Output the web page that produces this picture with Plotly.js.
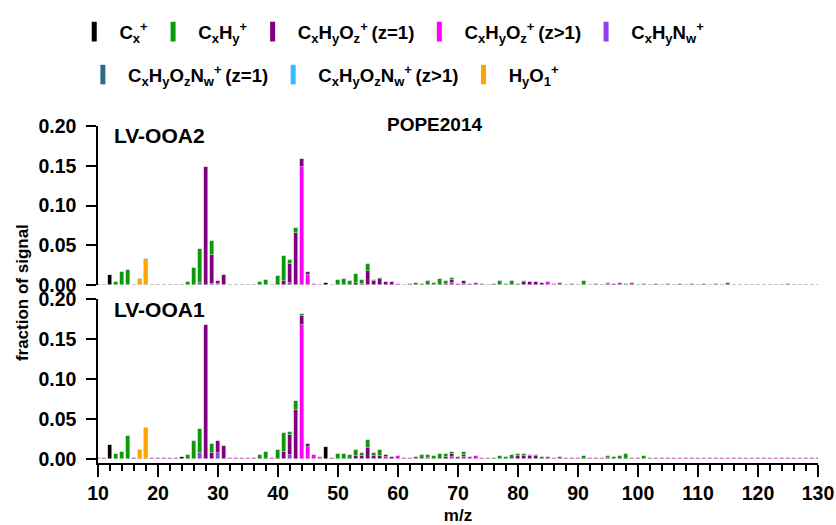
<!DOCTYPE html>
<html>
<head>
<meta charset="utf-8">
<script src="https://cdn.plot.ly/plotly-3.0.1.min.js"></script>
<style>
  html, body { margin: 0; padding: 0; background: #fff; }
  #chart { width: 836px; height: 525px; }
</style>
</head>
<body>
<div id="chart"></div>
<script>
// Ion family labels (legend text) and colours
const NB = '\u00A0';   // keeps a little air between key and text
const TS = '\u2009';   // thin space before the charge-state note
const FAMILY_LABELS = [
  NB + 'C<sub>x</sub><sup>+</sup>',
  NB + 'C<sub>x</sub>H<sub>y</sub><sup>+</sup>',
  NB + 'C<sub>x</sub>H<sub>y</sub>O<sub>z</sub><sup>+</sup>' + TS + '(z=1)',
  NB + 'C<sub>x</sub>H<sub>y</sub>O<sub>z</sub><sup>+</sup>' + TS + '(z>1)',
  NB + 'C<sub>x</sub>H<sub>y</sub>N<sub>w</sub><sup>+</sup>',
  NB + 'C<sub>x</sub>H<sub>y</sub>O<sub>z</sub>N<sub>w</sub><sup>+</sup>' + TS + '(z=1)',
  NB + 'C<sub>x</sub>H<sub>y</sub>O<sub>z</sub>N<sub>w</sub><sup>+</sup>' + TS + '(z>1)',
  NB + 'H<sub>y</sub>O<sub>1</sub><sup>+</sup>'
];
const FAMILY_COLORS = ['#000000', '#0a9a0a', '#800080', '#ff00ff', '#9040f0', '#2b6a8c', '#33bbff', '#ffa500'];

const PANEL_NAMES = ['LV-OOA2', 'LV-OOA1'];
const CAMPAIGN = 'POPE2014';

// LV-OOA2 factor profile: [m/z, fraction of signal] per ion family
const OOA2_CX = [[12, 0.013], [24, 0.001], [48, 0.003]];
const OOA2_CXHY = [[13, 0.004], [14, 0.017], [15, 0.019], [25, 0.004], [26, 0.022], [27, 0.042], [29, 0.017],
  [37, 0.004], [38, 0.007], [39, 0.001], [40, 0.012], [41, 0.031], [42, 0.005], [43, 0.006],
  [50, 0.0067], [51, 0.008], [52, 0.0055], [53, 0.0116], [54, 0.005], [55, 0.0095], [56, 0.002], [57, 0.001],
  [62, 0.0015], [63, 0.0033], [64, 0.002], [65, 0.0055], [66, 0.0033], [67, 0.008], [68, 0.004], [69, 0.0026],
  [74, 0.0015], [76, 0.002], [77, 0.0055], [78, 0.002], [79, 0.006], [80, 0.002], [81, 0.0015], [82, 0.0005],
  [87, 0.0027], [89, 0.002], [91, 0.005], [93, 0.002], [95, 0.001], [98, 0.002], [101, 0.002], [103, 0.0012],
  [105, 0.002], [107, 0.002], [113, 0.002], [115, 0.003]];
const OOA2_CXHYO1 = [[16, 0.001], [28, 0.148], [29, 0.036], [30, 0.004], [31, 0.013], [41, 0.006], [42, 0.024],
  [43, 0.066], [44, 0.010], [45, 0.004], [53, 0.003], [54, 0.002], [55, 0.0175], [56, 0.005], [57, 0.008],
  [58, 0.0045], [59, 0.004], [68, 0.002], [69, 0.004], [70, 0.002], [71, 0.004], [72, 0.002], [81, 0.004],
  [82, 0.004], [83, 0.004], [84, 0.0025], [95, 0.002], [96, 0.0015], [109, 0.002]];
const OOA2_CXHYOZ = [[10, 0.0008], [11, 0.0008], [19, 0.0008], [20, 0.0008], [21, 0.0008], [22, 0.0008], [23, 0.0008],
  [32, 0.0008], [33, 0.0008], [34, 0.0008], [35, 0.0008], [36, 0.0008], [44, 0.148], [45, 0.013], [46, 0.002],
  [47, 0.001], [49, 0.0008], [60, 0.002], [61, 0.001], [69, 0.003], [71, 0.002], [73, 0.003], [75, 0.001],
  [85, 0.004], [86, 0.0012], [88, 0.001], [90, 0.0008], [92, 0.001], [94, 0.001], [97, 0.003], [99, 0.003],
  [100, 0.001], [102, 0.001], [104, 0.001], [106, 0.001], [108, 0.001], [110, 0.001], [111, 0.002], [112, 0.001],
  [114, 0.001], [116, 0.0008], [117, 0.0008], [118, 0.0008], [119, 0.0008], [120, 0.0008], [121, 0.0008],
  [122, 0.0008], [123, 0.0008], [124, 0.0008], [125, 0.0015], [126, 0.0008], [127, 0.0008], [128, 0.0008],
  [129, 0.0008], [130, 0.0008]];
const OOA2_CXHYNW = [[27, 0.003], [29, 0.002], [30, 0.002], [42, 0.003]];
const OOA2_CXHYOZNW1 = [];
const OOA2_CXHYOZNW2 = [];
const OOA2_HYO1 = [[17, 0.008], [18, 0.033]];

// LV-OOA1 factor profile
const OOA1_CX = [[12, 0.0175], [24, 0.002], [48, 0.0146]];
const OOA1_CXHY = [[13, 0.006], [14, 0.0088], [15, 0.0288], [25, 0.005], [26, 0.022], [27, 0.031], [29, 0.0113],
  [37, 0.005], [38, 0.008], [40, 0.011], [41, 0.0242], [42, 0.0044], [43, 0.0115], [44, 0.002],
  [50, 0.006], [51, 0.006], [52, 0.005], [53, 0.0075], [54, 0.004], [55, 0.0103], [56, 0.0035], [57, 0.007],
  [63, 0.002], [64, 0.005], [65, 0.0035], [66, 0.004], [67, 0.006], [68, 0.004], [69, 0.003], [70, 0.002],
  [71, 0.0038], [76, 0.0015], [77, 0.004], [78, 0.002], [79, 0.005], [80, 0.0015], [81, 0.002], [82, 0.001],
  [83, 0.002], [84, 0.002], [87, 0.002], [91, 0.003], [95, 0.003], [96, 0.002], [97, 0.0035], [98, 0.006],
  [99, 0.001], [101, 0.003], [103, 0.001]];
const OOA1_CXHYO1 = [[16, 0.001], [28, 0.167], [29, 0.0067], [30, 0.016], [31, 0.016], [41, 0.0083], [42, 0.0246],
  [43, 0.061], [44, 0.0115], [45, 0.004], [47, 0.001], [53, 0.003], [54, 0.003], [55, 0.0135], [56, 0.004],
  [57, 0.004], [58, 0.003], [59, 0.0025], [68, 0.002], [69, 0.0035], [71, 0.0025], [80, 0.004], [81, 0.004],
  [82, 0.004], [83, 0.003], [95, 0.001]];
const OOA1_CXHYOZ = [[10, 0.0008], [11, 0.0008], [19, 0.0008], [20, 0.0008], [21, 0.0008], [22, 0.0008], [23, 0.0008],
  [32, 0.0008], [33, 0.0008], [34, 0.0008], [35, 0.0008], [36, 0.0008], [39, 0.0008], [44, 0.1675], [45, 0.015],
  [46, 0.0046], [47, 0.0015], [49, 0.0008], [58, 0.002], [60, 0.0037], [61, 0.0015], [62, 0.001], [65, 0.001],
  [69, 0.0025], [71, 0.0025], [72, 0.0025], [73, 0.0037], [74, 0.0015], [75, 0.001], [85, 0.002], [86, 0.001],
  [88, 0.001], [89, 0.001], [90, 0.001], [92, 0.001], [93, 0.001], [94, 0.001], [100, 0.001], [102, 0.001],
  [104, 0.001], [105, 0.001], [106, 0.001], [107, 0.001], [108, 0.001], [109, 0.001], [110, 0.001], [111, 0.0015],
  [112, 0.001], [113, 0.001], [114, 0.001], [115, 0.001], [116, 0.0008], [117, 0.0008], [118, 0.0008],
  [119, 0.0008], [120, 0.0008], [121, 0.0008], [122, 0.0008], [123, 0.0008], [124, 0.0008], [125, 0.0008],
  [126, 0.0008], [127, 0.0008], [128, 0.0008], [129, 0.0008], [130, 0.0008]];
const OOA1_CXHYNW = [[27, 0.0067], [30, 0.0067], [42, 0.005]];
const OOA1_CXHYOZNW1 = [];
const OOA1_CXHYOZNW2 = [];
const OOA1_HYO1 = [[17, 0.0105], [18, 0.038]];

// Family index -> series, per panel (legend order)
const OOA2_SERIES = [OOA2_CX, OOA2_CXHY, OOA2_CXHYO1, OOA2_CXHYOZ, OOA2_CXHYNW, OOA2_CXHYOZNW1, OOA2_CXHYOZNW2, OOA2_HYO1];
const OOA1_SERIES = [OOA1_CX, OOA1_CXHY, OOA1_CXHYO1, OOA1_CXHYOZ, OOA1_CXHYNW, OOA1_CXHYOZNW1, OOA1_CXHYOZNW2, OOA1_HYO1];

// Stacking order, bottom to top
const STACK_ORDER = [0, 7, 6, 5, 4, 3, 2, 1];

const FONT = 'Liberation Sans, Arial, Helvetica, sans-serif';
const traces = [];

function addPanel(series, yaxisId) {
  STACK_ORDER.forEach(function (k) {
    const pts = series[k];
    if (!pts.length) return;
    traces.push({
      type: 'bar',
      x: pts.map(p => p[0]),
      y: pts.map(p => p[1]),
      width: 0.8,
      xaxis: 'x',
      yaxis: yaxisId,
      name: FAMILY_LABELS[k],
      showlegend: false,
      marker: { color: FAMILY_COLORS[k], line: { color: 'rgba(195,195,195,0.85)', width: 0.8 } },
      hoverinfo: 'x+y+name'
    });
  });
}
addPanel(OOA1_SERIES, 'y');
addPanel(OOA2_SERIES, 'y2');

// Legend keys: thin vertical bars, split over two rows
FAMILY_LABELS.forEach(function (label, k) {
  traces.push({
    type: 'scatter',
    mode: 'markers',
    x: [null],
    y: [null],
    xaxis: 'x',
    yaxis: 'y',
    name: label,
    legend: k < 5 ? 'legend' : 'legend2',
    marker: { symbol: 'line-ns', size: 14, color: FAMILY_COLORS[k], line: { color: FAMILY_COLORS[k], width: 5 } },
    hoverinfo: 'skip'
  });
});

const yTicks = [0, 0.05, 0.10, 0.15, 0.20];
const yAxisCommon = {
  tickvals: yTicks,
  tickformat: '.2f',
  ticks: 'outside',
  ticklen: 10,
  tickwidth: 1.5,
  tickcolor: '#000',
  ticklabelstandoff: 6,
  showline: true,
  linewidth: 1.5,
  linecolor: '#000',
  showgrid: false,
  zeroline: false,
  tickfont: { family: FONT, size: 19.5, color: '#000', weight: 'bold' },
  fixedrange: true
};

const legendCommon = {
  orientation: 'h',
  traceorder: 'normal',
  xref: 'paper',
  yref: 'paper',
  xanchor: 'left',
  yanchor: 'middle',
  bgcolor: 'rgba(0,0,0,0)',
  font: { family: FONT, size: 18.6, color: '#000', weight: 'bold' },
  itemclick: false,
  itemdoubleclick: false
};

const layout = {
  width: 836,
  height: 525,
  margin: { l: 98, r: 18, t: 126, b: 62, pad: 0 },
  paper_bgcolor: '#fff',
  plot_bgcolor: '#fff',
  font: { family: FONT, color: '#000' },
  barmode: 'stack',
  bargap: 0,
  showlegend: true,
  legend: Object.assign({}, legendCommon, { x: -0.033, y: (463 - 32) / 337 }),
  legend2: Object.assign({}, legendCommon, { x: -0.021, y: (463 - 75) / 337 }),
  xaxis: {
    anchor: 'y',
    range: [10, 130],
    tick0: 10,
    dtick: 10,
    ticks: 'outside',
    ticklen: 12,
    tickwidth: 1.5,
    tickcolor: '#000',
    showline: true,
    linewidth: 1.5,
    linecolor: '#000',
    showgrid: false,
    zeroline: false,
    minor: { dtick: 2, tick0: 10, ticks: 'outside', ticklen: 6, tickwidth: 1.5, tickcolor: '#000', showgrid: false },
    tickfont: { family: FONT, size: 19.5, color: '#000', weight: 'bold' },
    title: { text: 'm/z', font: { family: FONT, size: 17, color: '#000', weight: 'bold' }, standoff: 7 },
    fixedrange: true
  },
  yaxis: Object.assign({}, yAxisCommon, { domain: [0, 0.4858], range: [-0.005, 0.2] }),
  yaxis2: Object.assign({}, yAxisCommon, { domain: [0.5273, 1], range: [0, 0.2], anchor: 'x' }),
  annotations: [
    {
      text: CAMPAIGN, xref: 'x domain', yref: 'y2 domain', x: 0.467, y: 1.012,
      xanchor: 'center', yanchor: 'middle', showarrow: false,
      font: { family: FONT, size: 19, color: '#000', weight: 'bold' }
    },
    {
      text: PANEL_NAMES[0], xref: 'x domain', yref: 'y2 domain', x: 0.0194, y: 0.943,
      xanchor: 'left', yanchor: 'middle', showarrow: false,
      font: { family: FONT, size: 21, color: '#000', weight: 'bold' }
    },
    {
      text: PANEL_NAMES[1], xref: 'x domain', yref: 'y domain', x: 0.0194, y: 0.94,
      xanchor: 'left', yanchor: 'middle', showarrow: false,
      font: { family: FONT, size: 21, color: '#000', weight: 'bold' }
    },
    {
      text: 'fraction of signal', xref: 'paper', yref: 'paper', x: -0.1056, y: 0.507,
      xanchor: 'center', yanchor: 'middle', textangle: -90, showarrow: false,
      font: { family: FONT, size: 17, color: '#000', weight: 'bold' }
    }
  ]
};

Plotly.newPlot('chart', traces, layout, { displayModeBar: false, staticPlot: false, responsive: false });
</script>
</body>
</html>
